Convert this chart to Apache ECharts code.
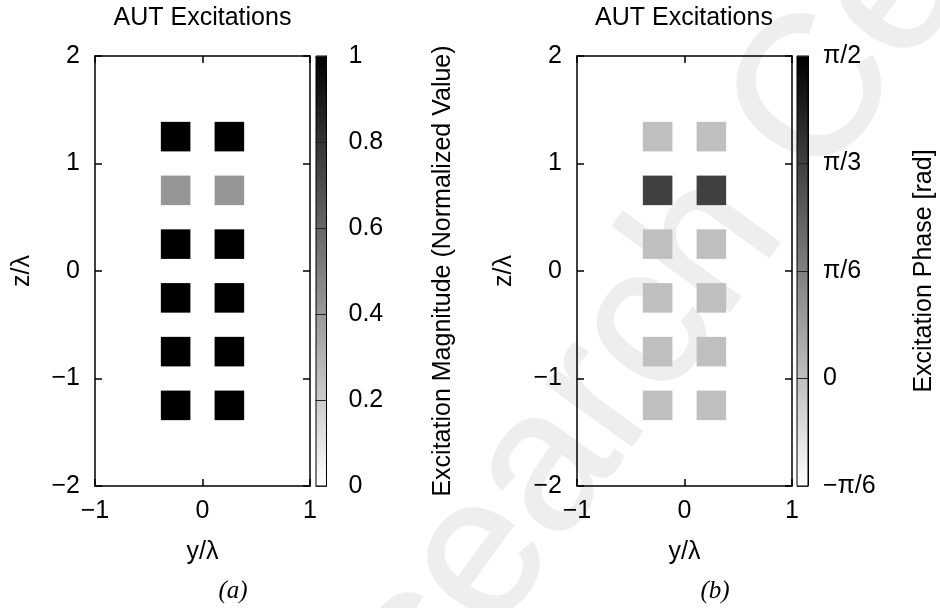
<!DOCTYPE html>
<html>
<head>
<meta charset="utf-8">
<script src="https://cdn.jsdelivr.net/npm/echarts@6/dist/echarts.min.js"></script>
<style>
  html, body { margin: 0; padding: 0; background: #fff; }
  #chart { width: 940px; height: 608px; }
</style>
</head>
<body>
<div id="chart"></div>
<script>
// Element positions of the 2 x 6 array under test (in wavelengths)
const elementY = [-0.25, 0.25];
const elementZ = [1.25, 0.75, 0.25, -0.25, -0.75, -1.25];

// Normalized excitation magnitude, one row per z position
const magnitude = [
  [1, 1],
  [0.41, 0.41],
  [1, 1],
  [1, 1],
  [1, 1],
  [1, 1]
];

// Excitation phase [rad], one row per z position
const phase = [
  [0, 0],
  [Math.PI / 3, Math.PI / 3],
  [0, 0],
  [0, 0],
  [0, 0],
  [0, 0]
];

// Colour-bar ranges and tick labels
const magRange = [0, 1];
const magStep = 0.2;
const magTickLabels = ['0', '0.2', '0.4', '0.6', '0.8', '1'];
const phaseRange = [-Math.PI / 6, Math.PI / 2];
const phaseStep = Math.PI / 6;
const phaseTickLabels = ['\u2212\u03c0/6', '0', '\u03c0/6', '\u03c0/3', '\u03c0/2'];

// Side of one element patch (in wavelengths)
const CELL = 0.275;

function cellData(values) {
  const out = [];
  elementZ.forEach((z, i) => elementY.forEach((y, j) => out.push([y, z, values[i][j]])));
  return out;
}

const FONT = 'Liberation Sans';
const txt = { fontFamily: FONT, fontSize: 25, color: '#000' };
const frameLine = { show: true, onZero: false, lineStyle: { color: '#000', width: 1.5 } };
const innerTick = { show: true, inside: true, length: 7, lineStyle: { color: '#000', width: 1.5 } };
const minus = v => (v < 0 ? '\u2212' + (-v) : String(v));

function plotX(g, bottom) {
  return {
    type: 'value', gridIndex: g, position: bottom ? 'bottom' : 'top',
    min: -1, max: 1, interval: 1,
    name: bottom ? 'y/\u03bb' : '', nameLocation: 'middle', nameGap: 54, nameTextStyle: txt,
    axisLine: frameLine, axisTick: innerTick,
    axisLabel: bottom ? Object.assign({}, txt, { margin: 13, formatter: minus }) : { show: false },
    splitLine: { show: false }
  };
}
function plotY(g, left) {
  return {
    type: 'value', gridIndex: g, position: left ? 'left' : 'right',
    min: -2, max: 2, interval: 1,
    name: left ? 'z/\u03bb' : '', nameLocation: 'middle', nameGap: 60, nameTextStyle: txt,
    axisLine: frameLine, axisTick: innerTick,
    axisLabel: left ? Object.assign({}, txt, { margin: 15, formatter: minus }) : { show: false },
    splitLine: { show: false }
  };
}
function barX(g) {
  return { type: 'value', gridIndex: g, min: 0, max: 1, show: false };
}
function barY(g, range, step, labels, title, margin) {
  return {
    type: 'value', gridIndex: g, position: 'right', z: 10,
    min: range[0], max: range[1], interval: step,
    name: title, nameLocation: 'middle', nameGap: 104, nameTextStyle: txt,
    axisLine: { show: true, onZero: false, lineStyle: { color: '#000', width: 1 } },
    axisTick: { show: true, inside: true, length: 11, lineStyle: { color: '#222', width: 1 } },
    axisLabel: Object.assign({}, txt, {
      margin: margin,
      formatter: v => labels[Math.round((v - range[0]) / step)]
    }),
    splitLine: { show: false }
  };
}

function cellItem(params, api) {
  const y = api.value(0), z = api.value(1);
  const p0 = api.coord([y - CELL / 2, z + CELL / 2]);
  const p1 = api.coord([y + CELL / 2, z - CELL / 2]);
  return {
    type: 'rect',
    shape: { x: p0[0], y: p0[1], width: p1[0] - p0[0], height: p1[1] - p0[1] },
    style: { fill: api.visual('color') }
  };
}
function barItem(params, api) {
  const lo = api.value(0), hi = api.value(1);
  const p0 = api.coord([0, hi]);
  const p1 = api.coord([1, lo]);
  return {
    type: 'rect',
    shape: { x: p0[0], y: p0[1], width: p1[0] - p0[0], height: p1[1] - p0[1] },
    style: {
      fill: new echarts.graphic.LinearGradient(0, 0, 0, 1, [
        { offset: 0, color: '#000000' },
        { offset: 1, color: '#ffffff' }
      ]),
      stroke: '#000', lineWidth: 1
    }
  };
}

const chart = echarts.init(document.getElementById('chart'), null, { renderer: 'canvas' });
chart.setOption({
  backgroundColor: '#fff',
  animation: false,
  textStyle: { fontFamily: FONT },
  grid: [
    { left: 95, top: 56, width: 215, height: 430 },
    { left: 316, top: 56, width: 10.5, height: 430 },
    { left: 577, top: 56, width: 215, height: 430 },
    { left: 797, top: 56, width: 11, height: 430 }
  ],
  xAxis: [plotX(0, true), plotX(0, false), barX(1), plotX(2, true), plotX(2, false), barX(3)],
  yAxis: [
    plotY(0, true), plotY(0, false),
    barY(1, magRange, magStep, magTickLabels, 'Excitation Magnitude (Normalized Value)', 22),
    plotY(2, true), plotY(2, false),
    barY(3, phaseRange, phaseStep, phaseTickLabels, 'Excitation Phase [rad]', 15)
  ],
  visualMap: [
    { show: false, seriesIndex: 0, dimension: 2, min: magRange[0], max: magRange[1],
      inRange: { color: ['#ffffff', '#000000'] } },
    { show: false, seriesIndex: 2, dimension: 2, min: phaseRange[0], max: phaseRange[1],
      inRange: { color: ['#ffffff', '#000000'] } }
  ],
  series: [
    { type: 'custom', name: 'magnitude', xAxisIndex: 0, yAxisIndex: 0, renderItem: cellItem,
      data: cellData(magnitude), silent: true },
    { type: 'custom', name: 'magnitude scale', xAxisIndex: 2, yAxisIndex: 2, renderItem: barItem,
      data: [[magRange[0], magRange[1]]], silent: true },
    { type: 'custom', name: 'phase', xAxisIndex: 3, yAxisIndex: 3, renderItem: cellItem,
      data: cellData(phase), silent: true },
    { type: 'custom', name: 'phase scale', xAxisIndex: 5, yAxisIndex: 5, renderItem: barItem,
      data: [[phaseRange[0], phaseRange[1]]], silent: true }
  ],
  graphic: [
    {
      type: 'text', z: -10, silent: true, x: 239, y: 892, rotation: 0.942,
      style: { text: 'Research Center', font: '200px "Liberation Sans"', fill: '#eeeeee',
               stroke: '#eeeeee', lineWidth: 2, align: 'left', verticalAlign: 'middle' }
    },
    { type: 'text', x: 202.5, y: 18, style: { text: 'AUT Excitations', font: '25px "Liberation Sans"', fill: '#000', align: 'center', verticalAlign: 'middle' } },
    { type: 'text', x: 684, y: 18, style: { text: 'AUT Excitations', font: '25px "Liberation Sans"', fill: '#000', align: 'center', verticalAlign: 'middle' } },
    { type: 'text', x: 233, y: 591, style: { text: '(a)', font: 'italic 25px "Liberation Serif"', fill: '#000', align: 'center', verticalAlign: 'middle' } },
    { type: 'text', x: 715, y: 591, style: { text: '(b)', font: 'italic 25px "Liberation Serif"', fill: '#000', align: 'center', verticalAlign: 'middle' } }
  ]
});
</script>
</body>
</html>
